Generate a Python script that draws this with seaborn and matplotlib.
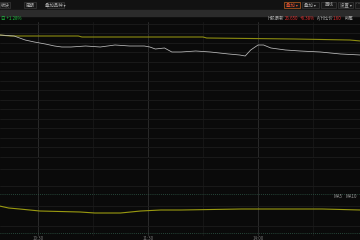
import matplotlib
matplotlib.use("Agg")
import matplotlib.pyplot as plt
import seaborn as sns
import numpy as np
import pandas as pd
from matplotlib.patches import Rectangle

sns.set_theme(style="dark")
plt.rcParams['font.family'] = ['Noto Sans CJK SC', 'DejaVu Sans']

# ---- data ----
minutes = [39, 47, 53, 58, 64, 69, 73, 78, 86, 94, 102, 110, 118, 121, 124, 129,
           133, 138, 146, 154, 164, 170, 173, 176, 180, 183, 187, 195, 203, 214, 225, 236]
price = [27.15, 27.14, 27.10, 27.08, 27.06, 27.04, 27.03, 27.03, 27.04, 27.03, 27.05,
         27.04, 27.04, 27.03, 27.01, 27.02, 26.98, 26.98, 26.99, 26.98, 26.96, 26.95,
         26.94, 27.00, 27.05, 27.05, 27.02, 27.00, 26.99, 26.98, 26.96, 26.95]
avg_minutes = [39, 45, 82, 84, 150, 152, 200, 230, 236]
avg_price = [27.15, 27.14, 27.14, 27.13, 27.13, 27.12, 27.11, 27.10, 27.09]
ind_minutes = [39, 44, 50, 61, 83, 91, 105, 116, 127, 138, 171, 193, 215, 236]
ind_value = [30, 28, 27, 25, 24, 23, 23, 25, 26, 26, 27, 27, 27, 26]
time_ticks = [60, 120, 180]
time_labels = ["10:30", "11:30", "14:00"]

BG = "#0a0a0a"
fig = plt.figure(figsize=(3.6, 2.4), dpi=100, facecolor=BG)

# toolbar and bands
fig.patches.append(Rectangle((0, 1 - 9/240), 1, 9/240, transform=fig.transFigure, color="#121212", zorder=0))
fig.patches.append(Rectangle((0, 1 - 15.5/240), 1, 5.5/240, transform=fig.transFigure, color="#2b2b2b", zorder=0))
fs = 3.2
def btn(x0, x1, label, tc="#aaaaaa", ec="#3a3a3a"):
    fig.patches.append(Rectangle((x0/360, 1 - 8/240), (x1-x0)/360, 6/240, transform=fig.transFigure,
                                 facecolor="#181818", edgecolor=ec, linewidth=0.5))
    fig.text((x0+x1)/2/360, 1 - 5/240, label, color=tc, fontsize=fs, ha="center", va="center")
btn(0, 10, "板块")
btn(24, 36, "周期")
btn(47, 64, "叠加品种 ▾")
btn(284, 300, "叠加 ▾", tc="#e05030", ec="#c06020")
btn(302, 319, "叠加 ▾")
btn(321, 336, "画线")
btn(338, 353, "设置 ▾")
btn(355, 360, "…")

fig.text(1/360, 1 - 18.5/240, "日 +1.28%", color="#20c040", fontsize=fs, va="center")
for x, t, c in [(267, "H股最新", "#aaaaaa"), (285, "26.650", "#e03030"), (300, "+8.38%", "#e03030"),
                (317, "A/H比价", "#aaaaaa"), (333, "1.60", "#e03030"), (345, "所属", "#aaaaaa")]:
    fig.text(x/360, 1 - 18.5/240, t, color=c, fontsize=fs, va="center")

def style(ax):
    ax.set_facecolor(BG)
    for s in ax.spines.values():
        s.set_visible(False)
    ax.set_xlim(39.3, 235.6)
    ax.set_xticks(time_ticks)
    ax.set_xticks([90, 150, 210], minor=True)
    ax.tick_params(length=0, labelbottom=False, labelleft=False)
    ax.grid(True, axis="x", which="major", color="#2a2a2a", linewidth=0.7)
    ax.grid(True, axis="x", which="minor", color="#181818", linewidth=0.6)
    ax.grid(True, axis="y", color="#1c1c1c", linewidth=0.6)
    ax.set_xlabel(""); ax.set_ylabel("")

# main panel
ax = fig.add_axes([0, 1 - 158/240, 1, 136/240])
df = pd.DataFrame({"m": minutes, "p": price})
dfa = pd.DataFrame({"m": avg_minutes, "p": avg_price})
sns.lineplot(data=dfa, x="m", y="p", ax=ax, color="#8c8c10", linewidth=0.8)
sns.lineplot(data=df, x="m", y="p", ax=ax, color="#bdbdbd", linewidth=0.55)
ax.set_ylim(25.92, 27.28)
ax.set_yticks(np.arange(25.935, 27.28, 0.095))
style(ax)

# bottom panel
ax2 = fig.add_axes([0, 4/240, 1, 77/240])
dfi = pd.DataFrame({"m": ind_minutes, "v": ind_value})
sns.lineplot(data=dfi, x="m", y="v", ax=ax2, color="#9a9a10", linewidth=0.8)
ax2.set_ylim(0, 77)
ax2.set_yticks([10, 30, 50, 67])
style(ax2)
ax2.axhline(42, color="#2f5a48", linewidth=0.6, linestyle=(0, (1, 1.5)))
ax2.axhline(3, color="#2f5a48", linewidth=0.6, linestyle=(0, (1, 1.5)))
fig.text(334/360, 1 - 197/240, "MA5", color="#999999", fontsize=fs, va="center")
fig.text(346/360, 1 - 197/240, "MA10", color="#999999", fontsize=fs, va="center")

for t, l in zip(time_ticks, time_labels):
    xp = 38 + (t - 60) * 110 / 60
    fig.text(xp/360, 1 - 238/240, l, color="#777777", fontsize=fs, ha="center", va="center")

fig.savefig("out.png", dpi=100, facecolor=BG)
